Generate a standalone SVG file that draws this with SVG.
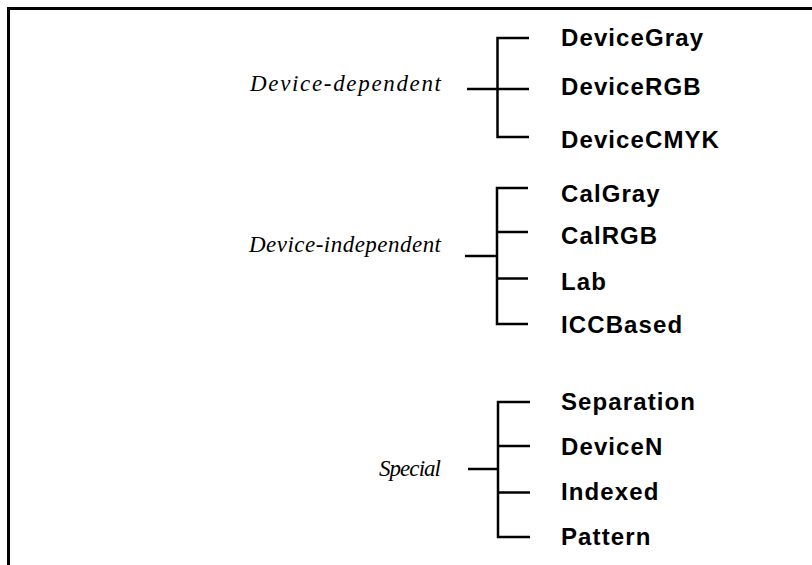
<svg xmlns="http://www.w3.org/2000/svg" width="812" height="565" viewBox="0 0 812 565">
<style>
.frame{fill:none;stroke:#000;stroke-width:3}
.br{fill:none;stroke:#000;stroke-width:2.5}
.cat{font-family:"Liberation Serif",serif;font-style:italic;font-size:23px;fill:#000;text-anchor:end}
.cs{font-family:"Liberation Sans",Arial,sans-serif;font-weight:bold;font-size:24px;fill:#000;letter-spacing:1.1px}
</style>
<rect width="812" height="565" fill="#fff"/>
<path class="frame" d="M8.5,565 V8.5 H812"/>
<g id="cat-device-dependent"><text class="cat" x="441" y="91" textLength="191">Device-dependent</text></g>
<g id="cat-device-independent"><text class="cat" x="441" y="252" textLength="192">Device-independent</text></g>
<g id="cat-special"><text class="cat" x="441" y="476" textLength="62">Special</text></g>
<g id="n-devicegray"><text class="cs" x="561" y="46">DeviceGray</text></g>
<g id="n-devicergb"><text class="cs" x="561" y="94.5">DeviceRGB</text></g>
<g id="n-devicecmyk"><text class="cs" x="561" y="147.5">DeviceCMYK</text></g>
<g id="n-calgray"><text class="cs" x="561" y="201.5">CalGray</text></g>
<g id="n-calrgb"><text class="cs" x="561" y="243.5">CalRGB</text></g>
<g id="n-lab"><text class="cs" x="561" y="289.5">Lab</text></g>
<g id="n-iccbased"><text class="cs" x="561" y="333">ICCBased</text></g>
<g id="n-separation"><text class="cs" x="561" y="409.5">Separation</text></g>
<g id="n-devicen"><text class="cs" x="561" y="454.5">DeviceN</text></g>
<g id="n-indexed"><text class="cs" x="561" y="499.5">Indexed</text></g>
<g id="n-pattern"><text class="cs" x="561" y="545">Pattern</text></g>
<g id="connectors">
<path class="br" d="M529,38 H497.5 V137 H529 M467,89 H529"/>
<path class="br" d="M528,188 H497 V324 H528 M497,232 H528 M497,278.5 H528 M465,256 H497"/>
<path class="br" d="M530,402 H498 V537 H530 M498,446 H530 M498,492.5 H530 M468,469 H498"/>
</g>
</svg>
